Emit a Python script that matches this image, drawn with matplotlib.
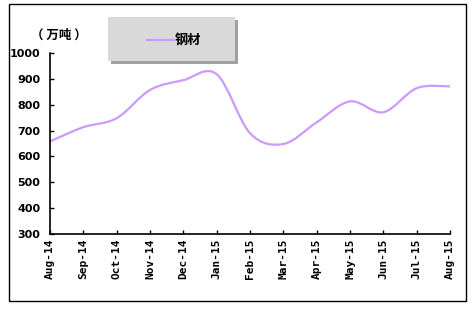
import matplotlib.pyplot as plt
from matplotlib.path import Path
from matplotlib.patches import PathPatch, Rectangle
from matplotlib.lines import Line2D

months = ["Aug-14", "Sep-14", "Oct-14", "Nov-14", "Dec-14", "Jan-15", "Feb-15",
          "Mar-15", "Apr-15", "May-15", "Jun-15", "Jul-15", "Aug-15"]
steel = [658, 713, 748, 857, 895, 918, 690, 648, 732, 813, 771, 864, 871]
yticks = [300, 400, 500, 600, 700, 800, 900, 1000]

purple = "#cc99ff"
cjk = ["Noto Sans CJK SC", "DejaVu Sans"]

fig = plt.figure(figsize=(4.73, 3.10), dpi=100)
fig.patches.append(Rectangle((9 / 473, 1 - 301 / 310), 457 / 473, 297 / 310,
                             transform=fig.transFigure, fill=False,
                             edgecolor="black", linewidth=1.0))

ax = fig.add_axes([50 / 473, 76 / 310, 400 / 473, 181 / 310])

# smoothed line like Excel: cubic bezier through each point
x = list(range(len(steel)))
t = 1 / 6
verts = [(x[0], steel[0])]
codes = [Path.MOVETO]
n = len(steel)
for i in range(n - 1):
    p0 = (x[max(i - 1, 0)], steel[max(i - 1, 0)])
    p1 = (x[i], steel[i])
    p2 = (x[i + 1], steel[i + 1])
    p3 = (x[min(i + 2, n - 1)], steel[min(i + 2, n - 1)])
    c1 = (p1[0] + (p2[0] - p0[0]) * t, p1[1] + (p2[1] - p0[1]) * t)
    c2 = (p2[0] - (p3[0] - p1[0]) * t, p2[1] - (p3[1] - p1[1]) * t)
    verts += [c1, c2, p2]
    codes += [Path.CURVE4] * 3
ax.add_patch(PathPatch(Path(verts, codes), facecolor="none",
                       edgecolor=purple, linewidth=1.6))

ax.set_xlim(0, len(months) - 1)
ax.set_ylim(300, 1000)
ax.set_xticks(x)
ax.set_xticklabels(months, rotation=90, fontsize=8, fontweight="bold",
                   family="DejaVu Sans Mono")
ax.set_yticks(yticks)
ax.set_yticklabels([str(v) for v in yticks], fontsize=8, fontweight="bold")
ax.tick_params(axis="both", direction="in", length=3, width=1)
ax.tick_params(axis="y", pad=7)
ax.tick_params(axis="x", pad=3)
for s in ["top", "right"]:
    ax.spines[s].set_visible(False)
for s in ["left", "bottom"]:
    ax.spines[s].set_linewidth(1.2)

fig.text(31 / 473, 1 - 35 / 310, "（ 万吨 ）", fontsize=9, fontweight="bold",
         family=cjk, va="center", ha="left")

# legend box with shadow
fig.patches.append(Rectangle((111 / 473, 1 - 64 / 310), 127 / 473, 44 / 310,
                             transform=fig.transFigure, facecolor="#a0a0a0",
                             edgecolor="none"))
fig.patches.append(Rectangle((108 / 473, 1 - 61 / 310), 127 / 473, 44 / 310,
                             transform=fig.transFigure, facecolor="#d9d9d9",
                             edgecolor="none"))
fig.lines.append(Line2D([147 / 473, 174 / 473], [1 - 40 / 310, 1 - 40 / 310],
                        transform=fig.transFigure, color=purple, linewidth=1.6))
fig.text(175 / 473, 1 - 40 / 310, "钢材", fontsize=9.5, fontweight="bold",
         family=cjk, va="center", ha="left")

fig.savefig("out.png", dpi=100)
